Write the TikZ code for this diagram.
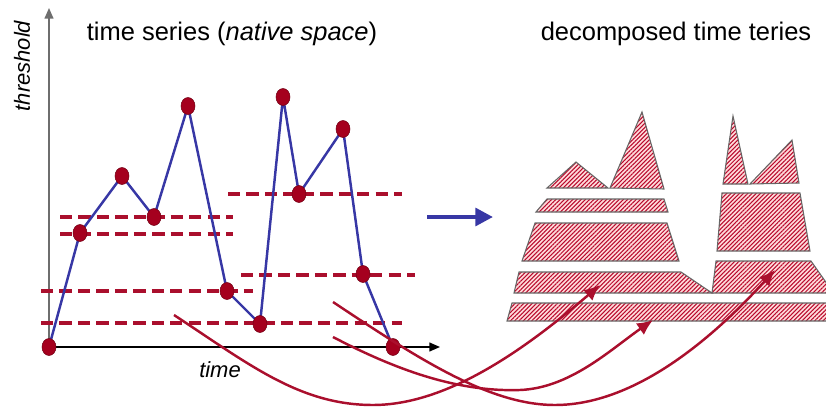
\documentclass[tikz,border=0pt]{standalone}
\usepackage{fontspec}
\setmainfont{Liberation Sans}
\usetikzlibrary{arrows.meta,patterns.meta}
\definecolor{SeriesBlue}{RGB}{55,55,165}
\definecolor{DotRed}{RGB}{165,0,30}
\definecolor{CutRed}{RGB}{170,15,45}
\definecolor{HatchRed}{RGB}{185,10,45}
\definecolor{AxisGray}{RGB}{110,110,110}

\begin{document}
\begin{tikzpicture}[x=0.02cm,y=-0.02cm,>=Latex,
  cut/.style={CutRed,line width=2.2pt,dash pattern=on 7pt off 3.5pt},
  link/.style={CutRed,line width=1.4pt,-{Latex[length=9pt,width=8pt]}},
  slab/.style={draw=black!60,line width=0.6pt,preaction={fill=red!14},
    pattern={Lines[angle=45,distance=1.7pt,line width=0.6pt]},pattern color=HatchRed},
  lbl/.style={font=\fontsize{14.5}{17}\selectfont},
  axlbl/.style={font=\fontsize{12.5}{15}\selectfont\itshape}]
  \useasboundingbox (0,0) rectangle (826,409);
  \coordinate (o) at (49,347);
  \coordinate (ytop) at (49,8);
  \coordinate (xend) at (440,347);
  \draw[AxisGray,line width=0.9pt,-{Triangle[length=6pt,width=5pt]}] (o) -- (ytop);
  \draw[black,line width=0.9pt,-{Triangle[length=6pt,width=5pt]}] (o) -- (xend);
  \node[axlbl,rotate=90] (thr) at (22,66) {threshold};
  \node[axlbl] (tim) at (220,370) {time};
  \node[lbl] (ttl) at (232,34) {time series (\textit{native space})};
  \node[lbl] (dttl) at (676,34) {decomposed time teries};
  \draw[cut] (60,217) -- (233,217);
  \draw[cut,line width=2.8pt] (60,234) -- (233,234);
  \draw[cut] (41,291) -- (253,291);
  \draw[cut] (41,323) -- (402,323);
  \draw[cut] (228,194) -- (402,194);
  \draw[cut] (241,275) -- (415,275);
  \coordinate (p0) at (49,347);
  \coordinate (p1) at (80,233);
  \coordinate (p2) at (122,176);
  \coordinate (p3) at (154,217);
  \coordinate (p4) at (188,106);
  \coordinate (p5) at (227,291);
  \coordinate (p6) at (260,324);
  \coordinate (p7) at (283,97);
  \coordinate (p8) at (299,194);
  \coordinate (p9) at (343,129);
  \coordinate (p10) at (363,274);
  \coordinate (p11) at (393,347);
  \draw[SeriesBlue,line width=1.4pt,line join=round] (p0) -- (p1) -- (p2) -- (p3) -- (p4) -- (p5)
    -- (p6) -- (p7) -- (p8) -- (p9) -- (p10) -- (p11);
  \foreach \p in {p0,p1,p2,p3,p4,p5,p6,p7,p8,p9,p10,p11}
    \filldraw[fill=DotRed,draw=DotRed!70!black,line width=0.3pt] (\p) ellipse (7 and 8.5);
  \coordinate (ba) at (427,217);
  \coordinate (bb) at (493,217);
  \draw[SeriesBlue,line width=2.3pt,-{Triangle[length=10pt,width=10pt]}] (ba) -- (bb);
  \begin{scope}
    \clip (0,0) rectangle (826,409);
    \draw[slab] (547,188) -- (576,162) -- (608,188) -- cycle;
    \draw[slab] (610,188) -- (642,112) -- (664,189) -- cycle;
    \draw[slab] (547,199) -- (664,199) -- (668,212) -- (536,212) -- cycle;
    \draw[slab] (535,223) -- (667,223) -- (679,261) -- (522,261) -- cycle;
    \draw[slab] (519,272) -- (681,272) -- (712,293) -- (514,293) -- cycle;
    \draw[slab] (512,303) -- (840,303) -- (840,321) -- (507,321) -- cycle;
    \draw[slab] (723,184) -- (733,116) -- (748,184) -- cycle;
    \draw[slab] (750,184) -- (792,140) -- (799,183) -- cycle;
    \draw[slab] (722,193) -- (800,193) -- (810,251) -- (717,251) -- cycle;
    \draw[slab] (716,261) -- (811,261) -- (830,288) -- (840,293) -- (712,293) -- cycle;
  \end{scope}
  \coordinate (a0) at (174,315);
  \coordinate (a1) at (600,285);
  \coordinate (b0) at (333,302);
  \coordinate (b1) at (775,270);
  \coordinate (c0) at (333,337);
  \coordinate (c1) at (653,320);
  \draw[link] (a0) .. controls (250,365) and (300,405) .. (373,405)
    .. controls (450,405) and (530,345) .. (a1);
  \draw[link] (b0) .. controls (420,360) and (490,405) .. (555,405)
    .. controls (640,405) and (720,330) .. (b1);
  \draw[link] (c0) .. controls (400,372) and (460,392) .. (520,390)
    .. controls (570,388) and (610,350) .. (c1);
\end{tikzpicture}
\end{document}
